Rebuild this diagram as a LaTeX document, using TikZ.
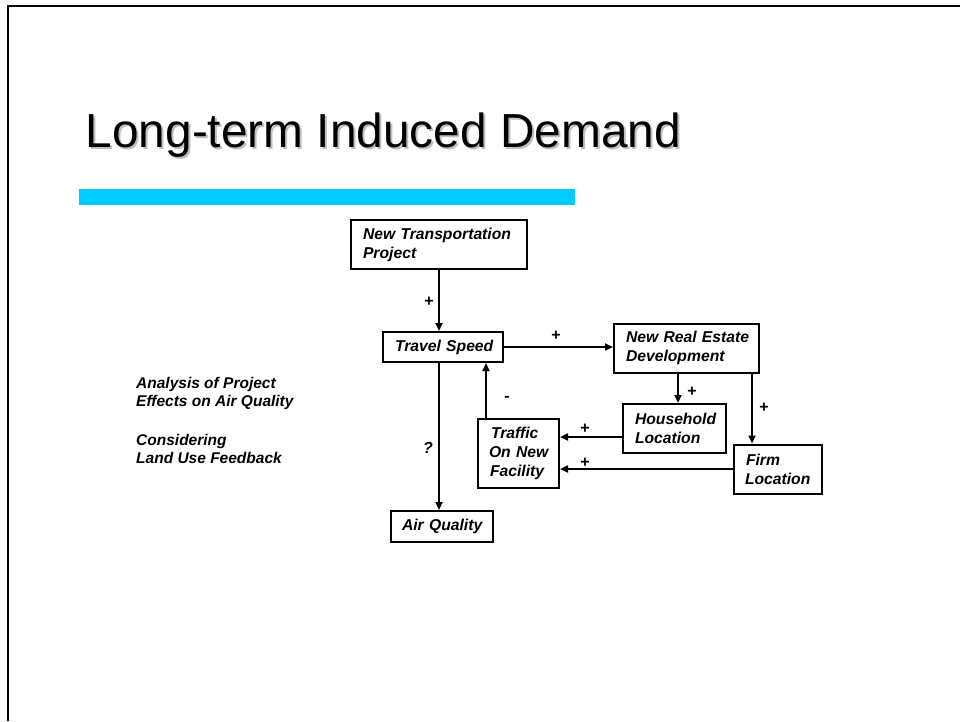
\documentclass[tikz,border=0pt]{standalone}
\usepackage{fontspec}
\setmainfont{Liberation Sans}
\usetikzlibrary{arrows.meta}
\definecolor{barblue}{HTML}{00CCFF}
\hyphenpenalty=10000
\begin{document}
\begin{tikzpicture}[x=1pt,y=-1pt,
  box/.style={draw, line width=2pt, inner xsep=0pt, inner ysep=0pt, align=left,
    font=\fontsize{15.7}{19}\selectfont\bfseries\itshape},
  arr/.style={line width=2pt, -{Triangle[length=8pt,width=7pt]}},
  lbl/.style={font=\fontsize{16}{19}\selectfont\bfseries, inner sep=0pt},
  side/.style={font=\fontsize{15.5}{18}\selectfont\bfseries\itshape, inner sep=0pt, anchor=base west}]
\useasboundingbox (0,0) rectangle (960,721);
\fill[white] (0,0) rectangle (960,721);
% frame
\draw[line width=2.6pt] (8,721) -- (8,6) -- (960,6);
% title
\node[anchor=base west, inner sep=0pt, text=gray!50, font=\fontsize{47.8}{56}\selectfont] (titleshadow) at (87.5,149.5)
  {Long-term Induced Demand};
\node[anchor=base west, inner sep=0pt, font=\fontsize{47.8}{56}\selectfont] (title) at (85.5,147)
  {Long-term Induced Demand};
% bar
\fill[barblue] (79,189) rectangle (575,205);
% boxes
\node[box, minimum width=176pt, minimum height=49pt, text width=176pt] (ntp) at (439,244.5)
  {\hspace*{12pt}New Transportation\\ \hspace*{12pt}Project};
\node[box, minimum width=120pt, minimum height=30pt, text width=120pt] (ts) at (443,347)
  {\hspace*{12pt}Travel Speed};
\node[box, minimum width=145pt, minimum height=49pt, text width=145pt] (nred) at (686.5,348)
  {\hspace*{12pt}New Real Estate\\ \hspace*{12pt}Development};
\node[box, minimum width=103pt, minimum height=49pt, text width=103pt] (hl) at (674.5,428.5)
  {\hspace*{12pt}Household\\ \hspace*{12pt}Location};
\node[box, minimum width=88pt, minimum height=49pt, text width=88pt] (fl) at (778,469)
  {\hspace*{12pt}Firm\\ \hspace*{11pt}Location};
\node[box, minimum width=81pt, minimum height=69pt, text width=81pt] (tnf) at (518.5,453.5)
  {\hspace*{13pt}Traffic\\ \hspace*{11pt}On New\\ \hspace*{12pt}Facility};
\node[box, minimum width=102pt, minimum height=31pt, text width=102pt] (aq) at (442,526.5)
  {\hspace*{11pt}Air Quality};
% connectors
\draw[arr] (ntp.south) -- (ntp.south |- ts.north);
\draw[arr] (ts.east) -- (ts.east -| nred.west);
\draw[arr] ([xshift=-4pt]ts.south) -- ([xshift=-4pt]ts.south |- aq.north);
\draw[arr] ([xshift=9pt]tnf.north west) -- ([xshift=9pt]tnf.north west |- ts.south);
\draw[arr] ([xshift=65pt]nred.south west) -- ([xshift=65pt]nred.south west |- hl.north);
\draw[arr] ([xshift=-8pt]nred.south east) -- ([xshift=-8pt]nred.south east |- fl.north);
\draw[arr] ([yshift=-8.5pt]hl.west) -- ([yshift=-8.5pt]hl.west -| tnf.east);
\draw[arr] (fl.west) -- (fl.west -| tnf.east);
% labels
\node[lbl] (p1) at (429,302) {+};
\node[lbl] (p2) at (556,336) {+};
\node[lbl] (p3) at (692,392) {+};
\node[lbl] (p4) at (764,408) {+};
\node[lbl] (p5) at (585,429) {+};
\node[lbl] (p6) at (585,463) {+};
\node[lbl] (m1) at (507,399) {-};
\node[lbl, font=\fontsize{16}{19}\selectfont\bfseries\itshape] (q1) at (428,448) {?};
% side text
\node[side] (s1) at (136,388) {Analysis of Project};
\node[side] (s2) at (136,406) {Effects on Air Quality};
\node[side] (s3) at (136,445) {Considering};
\node[side] (s4) at (136,463) {Land Use Feedback};
\end{tikzpicture}
\end{document}
